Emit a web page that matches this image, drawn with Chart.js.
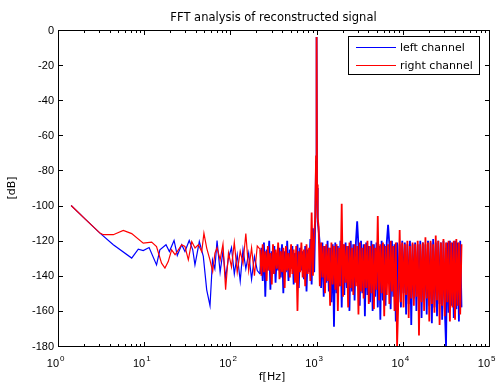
<!DOCTYPE html>
<html>
<head>
<meta charset="utf-8">
<script src="https://cdn.jsdelivr.net/npm/chart.js@4"></script>
<style>
  html, body { margin: 0; padding: 0; background: #fff; }
  #wrap { width: 499px; height: 385px; }
</style>
</head>
<body>
<div id="wrap"><canvas id="fftChart" width="499" height="385"></canvas></div>
<script>
// low frequency part (Hz / dB)
const lowFreqLeft = [1.42, 2.1, 3.07, 4.38, 7.16, 8.54, 9.75, 11.4, 13.9, 15.2, 17.9, 19.6, 22.2, 24.2, 27.2, 29.7, 33.3, 36.6, 38.8, 43.6, 48.5, 53.1, 58, 62, 66];
const lowLeft = [-100, -108, -115.7, -122.3, -129.9, -124.8, -125.6, -123.9, -133.8, -125.2, -122.3, -126.2, -119.9, -128.4, -122.3, -126.2, -119.9, -125.2, -133.8, -120.5, -129, -148, -157, -131, -136];

const lowFreqRight = [1.42, 2.1, 3.07, 3.35, 4.38, 5.72, 7.16, 9.75, 12.2, 13.9, 15.9, 17.4, 19.0, 20.8, 22.8, 24.9, 27.2, 29.7, 32.5, 35.6, 38.9, 42.5, 46.5, 49.3, 53.1, 57.9, 62.3, 66.2];
const lowRight = [-100, -108, -115.7, -116.6, -116.6, -114.2, -116, -121.4, -120.8, -123.3, -132.8, -135.6, -131.9, -125.2, -128, -125.2, -122.3, -123.3, -130.9, -120.5, -124.2, -122.3, -126.2, -115.7, -124.2, -130.9, -137.6, -127.1];

// noise floor + 1 kHz tone, shared frequency list
const bandFreq = [
  70, 76, 82, 88, 95, 103, 111, 120, 130, 140, 151, 163, 176, 190, 205,
  221, 229, 237, 245, 254, 263, 272, 282, 291, 302,
  312, 323, 334, 346, 358, 371, 384, 397, 411, 426,
  441, 456, 472, 489, 506, 523, 542, 561, 580, 600,
  621, 643, 666, 689, 713, 738, 764, 790, 818, 847,
  876, 907, 938, 965, 985, 1000, 1012, 1030, 1055,
  1090, 1128, 1168, 1209, 1251, 1295, 1340, 1387, 1435, 1486,
  1538, 1591, 1647, 1705, 1764, 1826, 1890, 1956, 2025, 2096,
  2169, 2245, 2323, 2405, 2489, 2576, 2666, 2759, 2856, 2956,
  3059, 3166, 3277, 3392, 3511, 3633, 3761, 3892, 4028, 4169,
  4315, 4466, 4623, 4784, 4952, 5125, 5304, 5490, 5682, 5881,
  6087, 6300, 6520, 6748, 6985, 7229, 7482, 7744, 8015, 8296,
  8586, 8887, 9198, 9520, 9853, 10198, 10555, 10924, 11306, 11702,
  12112, 12536, 12975, 13429, 13899, 14385, 14889, 15410, 15949, 16507,
  17085, 17683, 18302, 18943, 19606, 20292, 21002, 21737, 22498, 23285,
  24100, 24944, 25817, 26720, 27655, 28623, 29625, 30662, 31735, 32846,
  33996, 35186, 36417, 37692, 39011, 40376, 41789, 43252, 44766, 46333,
  48000
];

const bandLeft = [
  -120, -138, -126, -141, -130, -124, -139, -128, -143, -125, -136, -127, -142, -129, -137,
  -139, -124, -143, -121, -152, -125, -137, -120, -148, -126,
  -139, -123, -144, -127, -137, -124, -141, -122, -150, -126,
  -138, -120, -143, -125, -136, -123, -145, -127, -139, -122,
  -147, -124, -137, -126, -142, -123, -149, -125, -138, -119,
  -145, -113, -138, -108, -75, -4, -90, -109, -114,
  -122, -147, -121, -152, -123, -144, -120, -149, -124, -155,
  -122, -169, -121, -150, -123, -146, -120, -158, -122, -151,
  -121, -147, -123, -160, -120, -149, -122, -154, -121, -109,
  -123, -157, -120, -150, -122, -163, -121, -151, -123, -155,
  -120, -160, -122, -152, -121, -158, -123, -165, -120, -154,
  -122, -157, -121, -111, -122, -159, -120, -152, -122, -166,
  -121, -155, -122, -158, -120, -150, -121, -162, -122, -156,
  -120, -168, -122, -153, -121, -160, -122, -157, -120, -164,
  -121, -154, -122, -162, -120, -157, -121, -167, -119, -158,
  -121, -163, -120, -156, -121, -165, -120, -158, -180, -121,
  -161, -120, -157, -121, -164, -120, -159, -121, -166, -120,
  -158
];

const bandRight = [
  -124, -131, -122, -148, -127, -135, -121, -138, -126, -133, -116, -137, -124, -140, -123,
  -125, -140, -122, -138, -126, -143, -123, -137, -127, -145,
  -122, -139, -125, -136, -121, -142, -126, -138, -124, -147,
  -123, -137, -127, -141, -122, -139, -125, -144, -123, -160,
  -126, -138, -121, -141, -125, -146, -122, -139, -124, -143,
  -104, -140, -118, -106, -72, -4, -88, -107, -112,
  -146, -121, -141, -123, -150, -122, -143, -124, -157, -121,
  -145, -123, -148, -122, -160, -124, -146, -99, -152, -122,
  -144, -123, -158, -121, -147, -124, -151, -122, -146, -123,
  -162, -121, -149, -124, -153, -122, -147, -120, -156, -123,
  -150, -122, -159, -124, -148, -106, -154, -122, -150, -121,
  -163, -123, -151, -122, -156, -120, -149, -123, -160, -121,
  -180, -153, -114, -155, -121, -158, -122, -151, -120, -164,
  -123, -153, -121, -157, -122, -152, -120, -174, -122, -155,
  -121, -160, -118, -153, -121, -166, -120, -156, -122, -161,
  -117, -154, -120, -168, -121, -157, -119, -163, -121, -155,
  -120, -166, -121, -158, -120, -165, -119, -157, -121, -162,
  -122
];

const seriesNames = ['left channel', 'right channel'];
const seriesColors = ['#0000ff', '#ff0000'];
const yTicks = [0, -20, -40, -60, -80, -100, -120, -140, -160, -180];
const xDecades = [0, 1, 2, 3, 4, 5];

const leftData = lowFreqLeft.map((f, i) => ({ x: f, y: lowLeft[i] }))
  .concat(bandFreq.map((f, i) => ({ x: f, y: bandLeft[i] })));
const rightData = lowFreqRight.map((f, i) => ({ x: f, y: lowRight[i] }))
  .concat(bandFreq.map((f, i) => ({ x: f, y: bandRight[i] })));

const textFont = '11px "DejaVu Sans", sans-serif';
const tickFont = '11px "Liberation Sans", Arial, sans-serif';

// the dense part of the spectrum is drawn a bit heavier so it reads as a band
const bandWidth = c => (c.p0.parsed.x >= 215 ? 1.8 : 1.2);

// matlab style box, ticks, labels and legend
const matlabAxes = {
  id: 'matlabAxes',
  afterDatasetsDraw(chart) {
    const { ctx, chartArea: a, scales: { x, y } } = chart;
    const L = a.left + 0.5, R = a.right + 0.5, T = a.top + 0.5, B = a.bottom + 0.5;
    ctx.save();
    ctx.strokeStyle = '#000';
    ctx.lineWidth = 1;
    ctx.strokeRect(L, T, R - L, B - T);

    ctx.beginPath();
    // x ticks, log decades + minors
    xDecades.forEach(d => {
      const px = Math.round(x.getPixelForValue(Math.pow(10, d))) + 0.5;
      ctx.moveTo(px, B); ctx.lineTo(px, B - 4.5);
      ctx.moveTo(px, T); ctx.lineTo(px, T + 4.5);
      if (d < 5) {
        for (let k = 2; k <= 9; k++) {
          const mx = Math.round(x.getPixelForValue(k * Math.pow(10, d))) + 0.5;
          ctx.moveTo(mx, B); ctx.lineTo(mx, B - 2.5);
          ctx.moveTo(mx, T); ctx.lineTo(mx, T + 2.5);
        }
      }
    });
    yTicks.forEach(v => {
      const py = Math.round(y.getPixelForValue(v)) + 0.5;
      ctx.moveTo(L, py); ctx.lineTo(L + 4.5, py);
      ctx.moveTo(R, py); ctx.lineTo(R - 4.5, py);
    });
    ctx.stroke();

    ctx.fillStyle = '#000';
    // y tick labels
    ctx.font = tickFont;
    ctx.textAlign = 'right';
    ctx.textBaseline = 'middle';
    yTicks.forEach(v => {
      ctx.fillText(String(v), a.left - 4, y.getPixelForValue(v) + 0.5);
    });
    // x tick labels 10^n
    ctx.textBaseline = 'alphabetic';
    xDecades.forEach(d => {
      const px = x.getPixelForValue(Math.pow(10, d));
      ctx.font = tickFont;
      ctx.textAlign = 'right';
      ctx.fillText('10', px + 1, a.bottom + 20.5);
      ctx.font = '8px "Liberation Sans", Arial, sans-serif';
      ctx.textAlign = 'left';
      ctx.fillText(String(d), px + 2, a.bottom + 15);
    });

    // title and axis labels
    ctx.font = '11.5px "DejaVu Sans", sans-serif';
    ctx.textAlign = 'center';
    ctx.textBaseline = 'alphabetic';
    const cx = (a.left + a.right) / 2;
    ctx.fillText('FFT analysis of reconstructed signal', cx, 20.5);
    ctx.font = textFont;
    ctx.textBaseline = 'middle';
    ctx.fillText('f[Hz]', cx - 1.5, a.bottom + 31);
    ctx.save();
    ctx.translate(12, (a.top + a.bottom) / 2);
    ctx.rotate(-Math.PI / 2);
    ctx.fillText('[dB]', 0, 0);
    ctx.restore();

    // legend box
    const bw = 132, bh = 39;
    const bx = a.right - 9 - bw, by = a.top + 6;
    ctx.fillStyle = '#fff';
    ctx.fillRect(bx, by, bw, bh);
    ctx.strokeStyle = '#000';
    ctx.lineWidth = 1;
    ctx.strokeRect(bx + 0.5, by + 0.5, bw - 1, bh - 1);
    seriesNames.forEach((name, i) => {
      const ly = by + 11 + i * 18;
      ctx.strokeStyle = seriesColors[i];
      ctx.lineWidth = 1;
      ctx.beginPath();
      ctx.moveTo(bx + 8, ly + 0.5);
      ctx.lineTo(bx + 48, ly + 0.5);
      ctx.stroke();
      ctx.fillStyle = '#000';
      ctx.textAlign = 'left';
      ctx.font = textFont;
      ctx.fillText(name, bx + 52, ly + 1);
    });
    ctx.restore();
  }
};

const ctx = document.getElementById('fftChart').getContext('2d');
const fftChart = new Chart(ctx, {
  type: 'line',
  data: {
    datasets: [
      {
        label: seriesNames[0],
        data: leftData,
        borderColor: seriesColors[0],
        borderWidth: 1.2,
        pointRadius: 0,
        fill: false,
        order: 1,
        segment: { borderWidth: bandWidth }
      },
      {
        label: seriesNames[1],
        data: rightData,
        borderColor: seriesColors[1],
        borderWidth: 1.2,
        pointRadius: 0,
        fill: false,
        order: 0,
        segment: { borderWidth: bandWidth }
      }
    ]
  },
  options: {
    responsive: false,
    animation: false,
    devicePixelRatio: 1,
    layout: { padding: { left: 58, top: 30, right: 10, bottom: 39 } },
    plugins: {
      legend: { display: false },
      tooltip: { enabled: false }
    },
    scales: {
      x: { type: 'logarithmic', min: 1, max: 100000, display: false },
      y: { type: 'linear', min: -180, max: 0, display: false }
    }
  },
  plugins: [matlabAxes]
});
</script>
</body>
</html>
